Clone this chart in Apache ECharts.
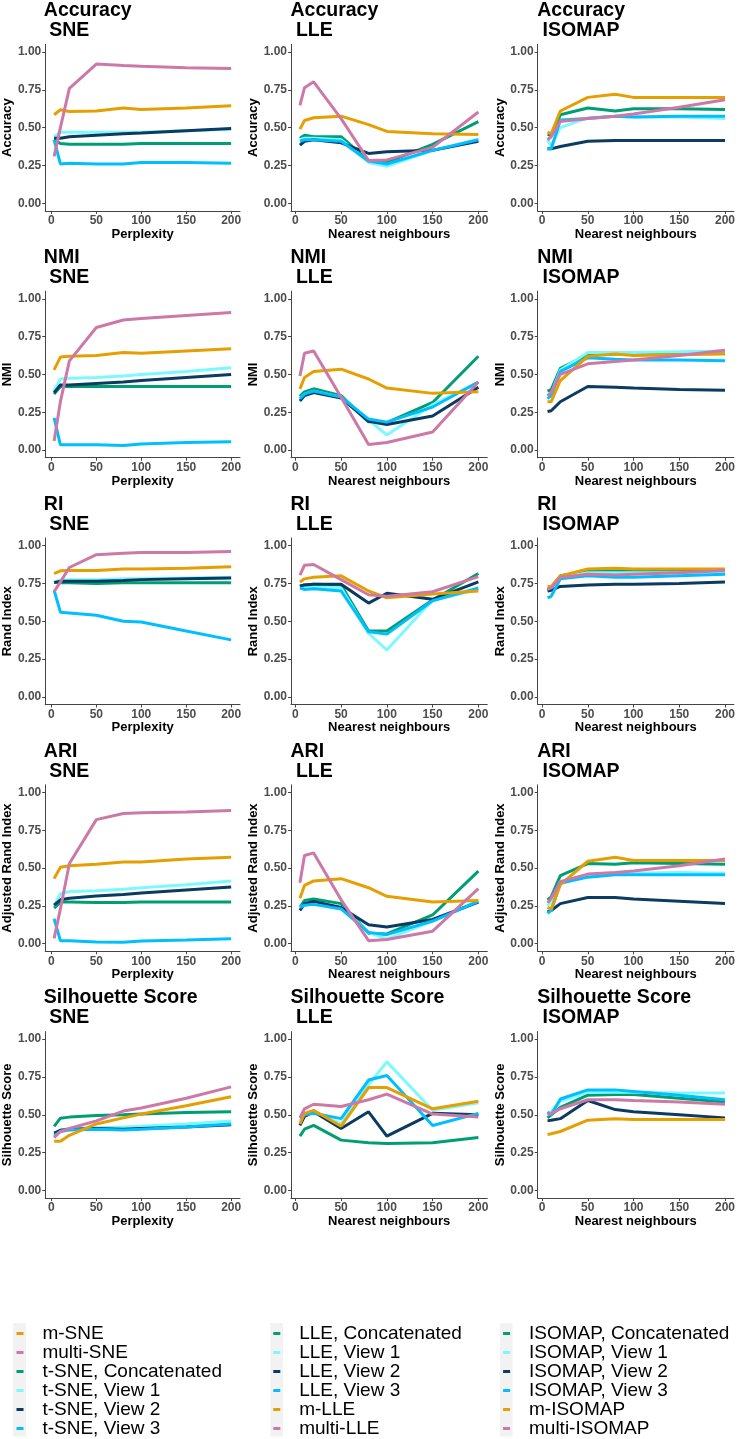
<!DOCTYPE html>
<html><head><meta charset="utf-8">
<script src="https://cdn.jsdelivr.net/npm/echarts@6/dist/echarts.min.js"></script>
<style>html,body{margin:0;padding:0;background:#fff}#c{width:738px;height:1439px}</style>
</head><body><div id="c"></div>
<script>
// ---------- x values ----------
const sneX = [3, 10, 20, 50, 80, 100, 150, 200];
const lleX = [5, 10, 20, 50, 80, 100, 150, 200];
const isoX = [6, 10, 20, 50, 80, 100, 150, 200];
const xTicks = [0, 50, 100, 150, 200];
const yTicks = [0, 0.25, 0.5, 0.75, 1];

const metricTitles = ['Accuracy', 'NMI', 'RI', 'ARI', 'Silhouette Score'];
const yAxisNames = ['Accuracy', 'NMI', 'Rand Index', 'Adjusted Rand Index', 'Silhouette Score'];
const methodNames = ['SNE', 'LLE', 'ISOMAP'];
const xAxisNames = ['Perplexity', 'Nearest neighbours', 'Nearest neighbours'];

const sneNames = {m:'m-SNE', multi:'multi-SNE', concat:'t-SNE, Concatenated', v1:'t-SNE, View 1', v2:'t-SNE, View 2', v3:'t-SNE, View 3'};
const lleNames = {m:'m-LLE', multi:'multi-LLE', concat:'LLE, Concatenated', v1:'LLE, View 1', v2:'LLE, View 2', v3:'LLE, View 3'};
const isoNames = {m:'m-ISOMAP', multi:'multi-ISOMAP', concat:'ISOMAP, Concatenated', v1:'ISOMAP, View 1', v2:'ISOMAP, View 2', v3:'ISOMAP, View 3'};

// ---------- Accuracy ----------
const accSNE_m      = [0.585,0.618,0.607,0.61,0.63,0.62,0.63,0.645];
const accSNE_multi  = [0.31,0.50,0.76,0.92,0.91,0.905,0.895,0.89];
const accSNE_concat = [0.42,0.395,0.39,0.39,0.39,0.395,0.395,0.395];
const accSNE_v1     = [0.44,0.47,0.47,0.47,0.47,0.47,0.48,0.49];
const accSNE_v2     = [0.43,0.43,0.44,0.45,0.46,0.465,0.48,0.495];
const accSNE_v3     = [0.42,0.26,0.265,0.26,0.26,0.27,0.27,0.265];

const accLLE_m      = [0.49,0.547,0.565,0.576,0.52,0.475,0.46,0.455];
const accLLE_multi  = [0.647,0.764,0.803,0.56,0.283,0.287,0.37,0.603];
const accLLE_concat = [0.43,0.45,0.44,0.44,0.28,0.27,0.39,0.54];
const accLLE_v1     = [0.42,0.43,0.43,0.42,0.27,0.245,0.35,0.42];
const accLLE_v2     = [0.385,0.41,0.42,0.40,0.33,0.34,0.35,0.41];
const accLLE_v3     = [0.41,0.42,0.42,0.41,0.28,0.26,0.35,0.42];

const accISO_m      = [0.47,0.46,0.61,0.70,0.72,0.70,0.70,0.70];
const accISO_multi  = [0.42,0.44,0.54,0.56,0.575,0.59,0.635,0.685];
const accISO_concat = [0.455,0.45,0.585,0.63,0.61,0.625,0.625,0.62];
const accISO_v1     = [0.42,0.38,0.50,0.565,0.575,0.57,0.57,0.56];
const accISO_v2     = [0.36,0.36,0.375,0.41,0.415,0.415,0.415,0.415];
const accISO_v3     = [0.36,0.36,0.55,0.56,0.575,0.57,0.575,0.575];

// ---------- NMI ----------
const nmiSNE_m      = [0.53,0.615,0.62,0.625,0.645,0.64,0.655,0.67];
const nmiSNE_multi  = [0.06,0.32,0.59,0.81,0.86,0.87,0.89,0.91];
const nmiSNE_concat = [0.37,0.42,0.42,0.42,0.42,0.42,0.42,0.42];
const nmiSNE_v1     = [0.39,0.47,0.475,0.48,0.49,0.50,0.52,0.545];
const nmiSNE_v2     = [0.38,0.43,0.43,0.44,0.45,0.46,0.48,0.50];
const nmiSNE_v3     = [0.213,0.035,0.035,0.035,0.03,0.04,0.05,0.055];

const nmiLLE_m      = [0.405,0.48,0.52,0.535,0.47,0.41,0.375,0.385];
const nmiLLE_multi  = [0.49,0.64,0.655,0.35,0.037,0.05,0.12,0.45];
const nmiLLE_concat = [0.355,0.385,0.405,0.36,0.187,0.182,0.315,0.62];
const nmiLLE_v1     = [0.34,0.37,0.39,0.35,0.20,0.10,0.30,0.45];
const nmiLLE_v2     = [0.325,0.36,0.38,0.345,0.19,0.17,0.225,0.415];
const nmiLLE_v3     = [0.34,0.37,0.39,0.35,0.205,0.185,0.285,0.45];

const nmiISO_m      = [0.32,0.32,0.46,0.62,0.635,0.625,0.63,0.635];
const nmiISO_multi  = [0.36,0.38,0.50,0.57,0.585,0.595,0.625,0.66];
const nmiISO_concat = [0.39,0.40,0.54,0.63,0.635,0.64,0.645,0.645];
const nmiISO_v1     = [0.36,0.37,0.53,0.645,0.645,0.645,0.65,0.655];
const nmiISO_v2     = [0.255,0.26,0.32,0.42,0.415,0.41,0.40,0.395];
const nmiISO_v3     = [0.34,0.36,0.52,0.61,0.60,0.595,0.595,0.59];

// ---------- RI ----------
const riSNE_m      = [0.815,0.833,0.835,0.835,0.845,0.845,0.85,0.86];
const riSNE_multi  = [0.695,0.76,0.855,0.94,0.95,0.955,0.955,0.96];
const riSNE_concat = [0.76,0.755,0.755,0.75,0.755,0.755,0.755,0.755];
const riSNE_v1     = [0.76,0.77,0.775,0.775,0.78,0.78,0.785,0.79];
const riSNE_v2     = [0.755,0.765,0.765,0.765,0.77,0.775,0.78,0.785];
const riSNE_v3     = [0.705,0.56,0.555,0.54,0.50,0.495,0.435,0.377];

const riLLE_m      = [0.76,0.78,0.79,0.80,0.70,0.655,0.68,0.70];
const riLLE_multi  = [0.805,0.87,0.875,0.775,0.675,0.665,0.695,0.795];
const riLLE_concat = [0.735,0.74,0.745,0.74,0.435,0.435,0.64,0.815];
const riLLE_v1     = [0.72,0.725,0.73,0.72,0.42,0.31,0.64,0.71];
const riLLE_v2     = [0.73,0.74,0.745,0.745,0.62,0.685,0.645,0.76];
const riLLE_v3     = [0.72,0.71,0.715,0.70,0.43,0.415,0.635,0.72];

const riISO_m      = [0.73,0.73,0.80,0.845,0.85,0.845,0.845,0.845];
const riISO_multi  = [0.71,0.72,0.79,0.81,0.805,0.81,0.82,0.835];
const riISO_concat = [0.71,0.72,0.80,0.83,0.83,0.83,0.83,0.835];
const riISO_v1     = [0.70,0.72,0.79,0.82,0.82,0.82,0.82,0.825];
const riISO_v2     = [0.70,0.705,0.73,0.74,0.745,0.745,0.75,0.76];
const riISO_v3     = [0.655,0.665,0.78,0.80,0.79,0.79,0.80,0.81];

// ---------- ARI ----------
const ariSNE_m      = [0.43,0.505,0.515,0.525,0.54,0.54,0.56,0.572];
const ariSNE_multi  = [0.035,0.23,0.53,0.82,0.86,0.865,0.87,0.88];
const ariSNE_concat = [0.235,0.275,0.275,0.272,0.272,0.275,0.275,0.275];
const ariSNE_v1     = [0.25,0.33,0.345,0.35,0.36,0.37,0.39,0.415];
const ariSNE_v2     = [0.255,0.29,0.30,0.315,0.325,0.335,0.355,0.375];
const ariSNE_v3     = [0.165,0.02,0.02,0.012,0.01,0.018,0.025,0.033];

const ariLLE_m      = [0.30,0.385,0.415,0.43,0.37,0.313,0.275,0.285];
const ariLLE_multi  = [0.403,0.583,0.60,0.29,0.02,0.028,0.083,0.364];
const ariLLE_concat = [0.24,0.285,0.295,0.265,0.07,0.065,0.19,0.48];
const ariLLE_v1     = [0.24,0.26,0.27,0.24,0.075,0.03,0.15,0.285];
const ariLLE_v2     = [0.22,0.265,0.28,0.24,0.125,0.11,0.16,0.275];
const ariLLE_v3     = [0.24,0.255,0.26,0.23,0.075,0.06,0.15,0.28];

const ariISO_m      = [0.24,0.23,0.39,0.545,0.572,0.55,0.55,0.55];
const ariISO_multi  = [0.27,0.30,0.41,0.46,0.47,0.48,0.515,0.56];
const ariISO_concat = [0.29,0.31,0.45,0.53,0.525,0.535,0.53,0.525];
const ariISO_v1     = [0.25,0.28,0.41,0.45,0.46,0.465,0.47,0.465];
const ariISO_v2     = [0.21,0.22,0.265,0.305,0.305,0.295,0.28,0.265];
const ariISO_v3     = [0.20,0.22,0.40,0.44,0.455,0.455,0.455,0.455];

// ---------- Silhouette ----------
const silSNE_m      = [0.325,0.325,0.365,0.44,0.48,0.505,0.56,0.62];
const silSNE_multi  = [0.35,0.39,0.41,0.46,0.525,0.545,0.61,0.685];
const silSNE_concat = [0.424,0.478,0.485,0.495,0.50,0.505,0.515,0.52];
const silSNE_v1     = [0.37,0.40,0.41,0.415,0.42,0.425,0.44,0.46];
const silSNE_v2     = [0.38,0.398,0.405,0.41,0.405,0.41,0.42,0.435];
const silSNE_v3     = [0.36,0.39,0.40,0.405,0.40,0.405,0.42,0.44];

const silLLE_m      = [0.44,0.51,0.53,0.425,0.68,0.68,0.54,0.59];
const silLLE_multi  = [0.48,0.54,0.57,0.555,0.60,0.637,0.505,0.485];
const silLLE_concat = [0.36,0.405,0.43,0.333,0.315,0.31,0.315,0.35];
const silLLE_v1     = [0.46,0.50,0.52,0.44,0.70,0.85,0.53,0.58];
const silLLE_v2     = [0.43,0.49,0.52,0.41,0.52,0.36,0.51,0.50];
const silLLE_v3     = [0.48,0.50,0.51,0.475,0.73,0.76,0.43,0.51];

const silISO_m      = [0.37,0.375,0.39,0.465,0.475,0.47,0.47,0.47];
const silISO_multi  = [0.50,0.51,0.54,0.60,0.60,0.595,0.585,0.57];
const silISO_concat = [0.48,0.50,0.55,0.63,0.635,0.635,0.61,0.585];
const silISO_v1     = [0.50,0.52,0.59,0.65,0.65,0.65,0.645,0.645];
const silISO_v2     = [0.46,0.465,0.475,0.595,0.535,0.52,0.50,0.48];
const silISO_v3     = [0.52,0.50,0.605,0.665,0.665,0.655,0.63,0.60];

// ---------- assembly ----------
const colors = {m:'#E69F00', multi:'#CC79A7', concat:'#009E73', v1:'#7CF9FF', v2:'#0B3B60', v3:'#00BFFF'};
const drawOrder = ['concat','v1','v2','v3','m','multi'];
const colX = [sneX, lleX, isoX];
const colNames = [sneNames, lleNames, isoNames];
const panelData = [
  [
    {m:accSNE_m,multi:accSNE_multi,concat:accSNE_concat,v1:accSNE_v1,v2:accSNE_v2,v3:accSNE_v3},
    {m:accLLE_m,multi:accLLE_multi,concat:accLLE_concat,v1:accLLE_v1,v2:accLLE_v2,v3:accLLE_v3},
    {m:accISO_m,multi:accISO_multi,concat:accISO_concat,v1:accISO_v1,v2:accISO_v2,v3:accISO_v3}
  ],[
    {m:nmiSNE_m,multi:nmiSNE_multi,concat:nmiSNE_concat,v1:nmiSNE_v1,v2:nmiSNE_v2,v3:nmiSNE_v3},
    {m:nmiLLE_m,multi:nmiLLE_multi,concat:nmiLLE_concat,v1:nmiLLE_v1,v2:nmiLLE_v2,v3:nmiLLE_v3},
    {m:nmiISO_m,multi:nmiISO_multi,concat:nmiISO_concat,v1:nmiISO_v1,v2:nmiISO_v2,v3:nmiISO_v3}
  ],[
    {m:riSNE_m,multi:riSNE_multi,concat:riSNE_concat,v1:riSNE_v1,v2:riSNE_v2,v3:riSNE_v3},
    {m:riLLE_m,multi:riLLE_multi,concat:riLLE_concat,v1:riLLE_v1,v2:riLLE_v2,v3:riLLE_v3},
    {m:riISO_m,multi:riISO_multi,concat:riISO_concat,v1:riISO_v1,v2:riISO_v2,v3:riISO_v3}
  ],[
    {m:ariSNE_m,multi:ariSNE_multi,concat:ariSNE_concat,v1:ariSNE_v1,v2:ariSNE_v2,v3:ariSNE_v3},
    {m:ariLLE_m,multi:ariLLE_multi,concat:ariLLE_concat,v1:ariLLE_v1,v2:ariLLE_v2,v3:ariLLE_v3},
    {m:ariISO_m,multi:ariISO_multi,concat:ariISO_concat,v1:ariISO_v1,v2:ariISO_v2,v3:ariISO_v3}
  ],[
    {m:silSNE_m,multi:silSNE_multi,concat:silSNE_concat,v1:silSNE_v1,v2:silSNE_v2,v3:silSNE_v3},
    {m:silLLE_m,multi:silLLE_multi,concat:silLLE_concat,v1:silLLE_v1,v2:silLLE_v2,v3:silLLE_v3},
    {m:silISO_m,multi:silISO_multi,concat:silISO_concat,v1:silISO_v1,v2:silISO_v2,v3:silISO_v3}
  ]
];

const FONT = '"Liberation Sans", Arial, Helvetica, sans-serif';
const colLeft = [44.3, 291, 537.7];
const colWidth = [195.7, 196.3, 196.3];
const colXMin = [-6.85, -4.75, -4.75];
const colXMax = [209.85, 209.75, 209.75];
const rowStep = 246.8, gridTop0 = 44.4, gridH = 166.5;

const grids = [], xAxes = [], yAxes = [], series = [], titles = [];
let idx = 0;
for (let r = 0; r < 5; r++) {
  for (let c = 0; c < 3; c++) {
    const top = gridTop0 + rowStep * r;
    grids.push({left: colLeft[c], top: top, width: colWidth[c], height: gridH, containLabel: false});
    titles.push({
      text: metricTitles[r] + '\n ' + methodNames[c],
      left: colLeft[c] - 0.5, top: rowStep * r + 0.8, padding: 0, itemGap: 0,
      textStyle: {fontFamily: FONT, fontSize: 19.5, fontWeight: 'bold', color: '#000', lineHeight: 20}
    });
    xAxes.push({
      type: 'value', gridIndex: idx, min: colXMin[c], max: colXMax[c],
      axisLine: {show: true, onZero: false, lineStyle: {color: '#444', width: 1}},
      axisTick: {show: true, length: 3, customValues: xTicks, lineStyle: {color: '#444', width: 1}},
      axisLabel: {customValues: xTicks, fontFamily: FONT, fontSize: 12, fontWeight: 'bold', color: '#4D4D4D', margin: 4},
      splitLine: {show: false},
      name: xAxisNames[c], nameLocation: 'middle', nameGap: 16,
      nameTextStyle: {fontFamily: FONT, fontSize: 13, fontWeight: 'bold', color: '#000'}
    });
    yAxes.push({
      type: 'value', gridIndex: idx, min: -0.05, max: 1.05,
      axisLine: {show: true, onZero: false, lineStyle: {color: '#444', width: 1}},
      axisTick: {show: true, length: 3, customValues: yTicks, lineStyle: {color: '#444', width: 1}},
      axisLabel: {customValues: yTicks, formatter: v => v.toFixed(2), fontFamily: FONT, fontSize: 12, fontWeight: 'bold', color: '#4D4D4D', margin: 4},
      splitLine: {show: false},
      name: yAxisNames[r], nameLocation: 'middle', nameGap: 28, nameRotate: 90,
      nameTextStyle: {fontFamily: FONT, fontSize: 13, fontWeight: 'bold', color: '#000'}
    });
    const pd = panelData[r][c];
    drawOrder.forEach(k => {
      series.push({
        type: 'line', name: colNames[c][k], xAxisIndex: idx, yAxisIndex: idx,
        data: colX[c].map((x, i) => [x, pd[k][i]]),
        showSymbol: false, symbol: 'none', silent: true,
        color: colors[k],
        lineStyle: {color: colors[k], width: 3},
        emphasis: {disabled: true}
      });
    });
    idx++;
  }
}

const legendOrders = [
  ['m','multi','concat','v1','v2','v3'],
  ['concat','v1','v2','v3','m','multi'],
  ['concat','v1','v2','v3','m','multi']
];
// key icon: a short dash on the left of a wider box so the label sits further right
const keyIcon = 'path://M0,0H7V3H0Z M20.9,1.49H20.91V1.51H20.9Z';
const legendLeft = [16.5, 273.3, 503.1];
const legends = legendOrders.map((ord, c) => ({
  orient: 'vertical', left: legendLeft[c], top: 1324, padding: 0,
  itemGap: 0, itemWidth: 20.9, itemHeight: 3, icon: keyIcon, symbolKeepAspect: false,
  selectedMode: false,
  textStyle: {fontFamily: FONT, fontSize: 19, color: '#000', lineHeight: 18.7},
  data: ord.map(k => colNames[c][k])
}));
const stripX = [13.2, 270.3, 499.9];
const graphics = stripX.map(x => ({
  type: 'rect', left: x, top: 1323, z: -1,
  shape: {width: 12.7, height: 113.5}, style: {fill: '#F2F2F2'}
}));

const chart = echarts.init(document.getElementById('c'), null, {renderer: 'canvas'});
chart.setOption({
  animation: false,
  backgroundColor: '#fff',
  title: titles,
  grid: grids,
  xAxis: xAxes,
  yAxis: yAxes,
  legend: legends,
  graphic: graphics,
  series: series
});
</script></body></html>
